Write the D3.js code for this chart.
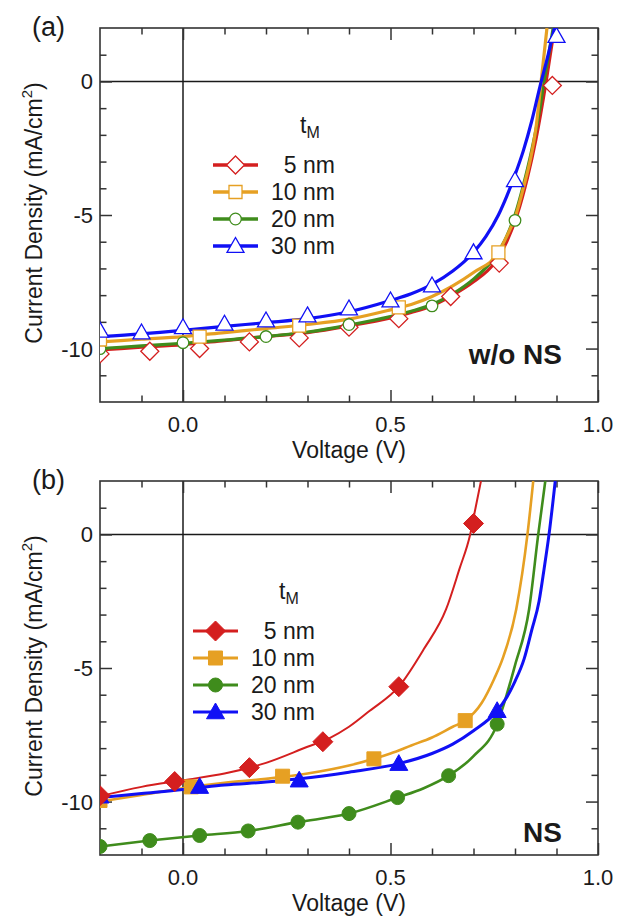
<!DOCTYPE html>
<html><head><meta charset="utf-8">
<script src="https://cdn.jsdelivr.net/npm/d3@7"></script>
<style>
body{margin:0;background:#fff}
svg{display:block}
text{font-family:"Liberation Sans",Arial,Helvetica,sans-serif;fill:#1a1a1a}
</style>
</head><body>
<svg id="chart" width="617" height="920"></svg>
<script>
// ---------- data ----------
const seriesNames = ["5 nm", "10 nm", "20 nm", "30 nm"];
const seriesColors = ["#d41f1f", "#e6a023", "#3f8c1c", "#1010f5"];
const seriesShapes = ["diamond", "square", "circle", "triangle"];

const xTickValues = [0.0, 0.5, 1.0];
const xTickLabels = ["0.0", "0.5", "1.0"];
const xMinorTicks = [-0.1, 0.1, 0.2, 0.3, 0.4, 0.6, 0.7, 0.8, 0.9];
const yTickValues = [0, -5, -10];
const yTickLabels = ["0", "-5", "-10"];
const yMinorTicks = [1, -1, -2, -3, -4, -6, -7, -8, -9, -11];

// Panel (a): w/o NS  [voltage V, current density mA/cm2]
const a5Line = [[-0.2,-10.05],[-0.1,-9.95],[0,-9.85],[0.1,-9.7],[0.2,-9.55],[0.3,-9.4],[0.4,-9.15],[0.5,-8.85],[0.55,-8.65],[0.6,-8.4],[0.65,-8.0],[0.7,-7.5],[0.75,-6.8],[0.78,-6.0],[0.805,-5.0],[0.83,-3.6],[0.85,-2.2],[0.875,0.0],[0.885,1.0],[0.895,2.0]];
const a5Marks = [[-0.2,-10.2],[-0.08,-10.1],[0.04,-10.0],[0.16,-9.75],[0.28,-9.6],[0.40,-9.2],[0.52,-8.88],[0.645,-8.05],[0.762,-6.8],[0.89,-0.15]];
const a10Line = [[-0.2,-9.75],[-0.1,-9.65],[0,-9.55],[0.1,-9.4],[0.2,-9.25],[0.3,-9.1],[0.4,-8.9],[0.5,-8.55],[0.55,-8.35],[0.6,-8.05],[0.65,-7.65],[0.7,-7.15],[0.76,-6.4],[0.78,-5.8],[0.8,-5.1],[0.82,-4.0],[0.84,-2.7],[0.85,-1.8],[0.863,0],[0.877,2.0]];
const a10Marks = [[-0.2,-9.66],[0.04,-9.55],[0.28,-9.14],[0.52,-8.46],[0.76,-6.4]];
const a20Line = [[-0.2,-10.0],[-0.1,-9.9],[0,-9.8],[0.1,-9.68],[0.2,-9.55],[0.3,-9.38],[0.4,-9.12],[0.5,-8.8],[0.55,-8.6],[0.6,-8.35],[0.65,-7.95],[0.7,-7.4],[0.75,-6.6],[0.78,-5.8],[0.8,-5.0],[0.82,-3.9],[0.84,-2.6],[0.86,-1.0],[0.87,0.0],[0.88,0.9],[0.892,2.0]];
const a20Marks = [[-0.2,-10.0],[0,-9.78],[0.2,-9.55],[0.4,-9.1],[0.6,-8.4],[0.8,-5.2]];
const a30Line = [[-0.2,-9.55],[-0.1,-9.45],[0,-9.32],[0.1,-9.17],[0.2,-9.03],[0.3,-8.88],[0.4,-8.62],[0.5,-8.2],[0.55,-7.95],[0.6,-7.6],[0.65,-7.1],[0.7,-6.4],[0.73,-5.8],[0.76,-5.0],[0.78,-4.3],[0.8,-3.5],[0.82,-2.6],[0.84,-1.5],[0.86,-0.2],[0.88,1.0],[0.895,2.0]];
const a30Marks = [[-0.2,-9.33],[-0.1,-9.4],[0,-9.2],[0.1,-9.07],[0.2,-8.95],[0.3,-8.76],[0.4,-8.5],[0.5,-8.2],[0.6,-7.64],[0.7,-6.4],[0.8,-3.7],[0.9,1.7]];

// Panel (b): NS
const b5Line = [[-0.2,-9.8],[-0.1,-9.45],[0,-9.2],[0.1,-8.95],[0.2,-8.55],[0.3,-7.95],[0.35,-7.65],[0.4,-7.2],[0.45,-6.6],[0.52,-5.7],[0.58,-4.3],[0.634,-2.8],[0.666,-1.3],[0.692,0],[0.705,1.0],[0.718,2.0]];
const b5Marks = [[-0.2,-9.78],[-0.02,-9.25],[0.16,-8.73],[0.337,-7.76],[0.52,-5.7],[0.70,0.41]];
const b10Line = [[-0.2,-10.0],[-0.1,-9.75],[0,-9.5],[0.1,-9.3],[0.2,-9.15],[0.3,-8.95],[0.4,-8.65],[0.46,-8.4],[0.5,-8.2],[0.55,-7.9],[0.6,-7.6],[0.65,-7.2],[0.68,-6.97],[0.72,-6.3],[0.75,-5.4],[0.77,-4.66],[0.803,-2.8],[0.83,0],[0.844,2.0]];
const b10Marks = [[-0.2,-9.96],[0.02,-9.45],[0.24,-9.05],[0.46,-8.4],[0.68,-6.97]];
const b20Line = [[-0.2,-11.68],[-0.08,-11.46],[0.04,-11.27],[0.157,-11.1],[0.277,-10.77],[0.4,-10.45],[0.517,-9.85],[0.58,-9.5],[0.64,-9.03],[0.7,-8.3],[0.757,-7.1],[0.78,-6.0],[0.80,-4.9],[0.834,-2.8],[0.856,0],[0.873,2.0]];
const b20Marks = [[-0.2,-11.68],[-0.08,-11.46],[0.04,-11.27],[0.157,-11.1],[0.277,-10.77],[0.4,-10.45],[0.517,-9.85],[0.64,-9.03],[0.757,-7.1]];
const b30Line = [[-0.2,-9.85],[-0.1,-9.7],[0,-9.55],[0.04,-9.48],[0.1,-9.38],[0.2,-9.27],[0.28,-9.15],[0.4,-8.9],[0.52,-8.58],[0.6,-8.2],[0.65,-7.85],[0.7,-7.35],[0.757,-6.6],[0.78,-6.1],[0.80,-5.5],[0.822,-4.66],[0.84,-3.6],[0.858,-2.5],[0.87,-1.3],[0.882,0],[0.897,2.0]];
const b30Marks = [[-0.2,-9.8],[0.04,-9.44],[0.28,-9.2],[0.52,-8.58],[0.757,-6.6]];

const xDomain = [-0.2, 1.0];
const yDomain = [-12, 2];

// ---------- drawing ----------
const svg = d3.select("#chart");
const L = 100, R = 598;

const panels = [
  { id: "a", label: "(a)", note: "w/o NS", top: 28, bottom: 402, filled: false,
    lines: [a5Line, a10Line, a20Line, a30Line], marks: [a5Marks, a10Marks, a20Marks, a30Marks],
    order: [0, 2, 1, 3], lw: [3.2, 3.2, 3.2, 3.2], legX: 213, legY: 165, tmX: 300, legTextX: 335,
    ms: {diamond: 9, square: 6.5, circle: 5.8, triangle: 8.5}, sw: 1.3 },
  { id: "b", label: "(b)", note: "NS", top: 481, bottom: 855, filled: true,
    lines: [b5Line, b10Line, b20Line, b30Line], marks: [b5Marks, b10Marks, b20Marks, b30Marks],
    order: [2, 1, 3, 0], lw: [2, 2.6, 2.6, 3], legX: 193, legY: 631, tmX: 279, legTextX: 315,
    ms: {diamond: 10, square: 7, circle: 7, triangle: 9}, sw: 1 }
];

function markerPath(shape, s) {
  if (shape === "diamond") return `M0,${-s}L${s},0L0,${s}L${-s},0Z`;
  if (shape === "square") return `M${-s},${-s}H${s}V${s}H${-s}Z`;
  if (shape === "triangle") return `M0,${-s}L${s},${s*0.75}L${-s},${s*0.75}Z`;
  return null;
}

function drawMarker(g, shape, cx, cy, color, filled, size, sw) {
  let el;
  if (shape === "circle") {
    el = g.append("circle").attr("cx", cx).attr("cy", cy).attr("r", size);
  } else {
    el = g.append("path").attr("d", markerPath(shape, size)).attr("transform", `translate(${cx},${cy})`);
  }
  el.attr("fill", filled ? color : "#fff").attr("stroke", color).attr("stroke-width", sw);
}

panels.forEach(p => {
  const x = d3.scaleLinear().domain(xDomain).range([L, R]);
  const y = d3.scaleLinear().domain(yDomain).range([p.bottom, p.top]);
  const g = svg.append("g");

  g.append("clipPath").attr("id", "clip" + p.id)
    .append("rect").attr("x", L).attr("y", p.top).attr("width", R - L).attr("height", p.bottom - p.top);

  // zero lines
  g.append("line").attr("x1", L).attr("x2", R).attr("y1", y(0)).attr("y2", y(0))
    .attr("stroke", "#1a1a1a").attr("stroke-width", 1.5);
  g.append("line").attr("x1", x(0)).attr("x2", x(0)).attr("y1", p.top).attr("y2", p.bottom)
    .attr("stroke", "#1a1a1a").attr("stroke-width", 1.5);

  // axes (ticks inside)
  const axes = [
    [d3.axisBottom, p.bottom, "x"], [d3.axisTop, p.top, "x"],
    [d3.axisLeft, L, "y"], [d3.axisRight, R, "y"]
  ];
  axes.forEach(([fn, pos, dim]) => {
    const sc = dim === "x" ? x : y;
    const tr = dim === "x" ? `translate(0,${pos})` : `translate(${pos},0)`;
    const major = dim === "x" ? xTickValues : yTickValues;
    const minor = dim === "x" ? xMinorTicks : yMinorTicks;
    const a1 = g.append("g").attr("transform", tr)
      .call(fn(sc).tickValues(major).tickSize(-12).tickFormat(""));
    const a2 = g.append("g").attr("transform", tr)
      .call(fn(sc).tickValues(minor).tickSize(-6.5).tickFormat(""));
    [a1, a2].forEach(a => {
      a.select(".domain").remove();
      a.selectAll("line").attr("stroke", "#333").attr("stroke-width", 1.5);
    });
  });

  // frame
  g.append("rect").attr("x", L).attr("y", p.top).attr("width", R - L).attr("height", p.bottom - p.top)
    .attr("fill", "none").attr("stroke", "#333").attr("stroke-width", 1.6);

  // tick labels
  xTickValues.forEach((v, i) => {
    g.append("text").attr("x", x(v)).attr("y", p.bottom + 30).attr("text-anchor", "middle")
      .attr("font-size", 22).text(xTickLabels[i]);
  });
  yTickValues.forEach((v, i) => {
    g.append("text").attr("x", L - 7).attr("y", y(v) + 8).attr("text-anchor", "end")
      .attr("font-size", 22).text(yTickLabels[i]);
  });

  // axis titles
  g.append("text").attr("x", (L + R) / 2).attr("y", p.bottom + 56).attr("text-anchor", "middle")
    .attr("font-size", 23).text("Voltage (V)");
  const yt = g.append("text")
    .attr("transform", `translate(42,${(p.top + p.bottom) / 2 - 2}) rotate(-90)`)
    .attr("text-anchor", "middle").attr("font-size", 23);
  yt.append("tspan").text("Current Density (mA/cm");
  yt.append("tspan").attr("font-size", 15).attr("dy", -10).text("2");
  yt.append("tspan").attr("dy", 10).text(")");

  // panel label
  g.append("text").attr("x", 32).attr("y", p.top + 8).attr("font-size", 27).text(p.label);

  // curves
  const lineGen = d3.line().x(d => x(d[0])).y(d => y(d[1])).curve(d3.curveMonotoneX);
  const cg = g.append("g").attr("clip-path", `url(#clip${p.id})`);
  p.order.forEach(i => {
    cg.append("path").datum(p.lines[i]).attr("d", lineGen)
      .attr("fill", "none").attr("stroke", seriesColors[i]).attr("stroke-width", p.lw[i])
      .attr("stroke-linejoin", "round");
  });
  p.order.forEach(i => {
    p.marks[i].forEach(d => {
      drawMarker(cg, seriesShapes[i], x(d[0]), y(d[1]), seriesColors[i], p.filled, p.ms[seriesShapes[i]], p.sw);
    });
  });

  // legend
  const lt = g.append("text").attr("x", p.tmX).attr("y", p.legY - 32).attr("font-size", 23);
  lt.append("tspan").text("t");
  lt.append("tspan").attr("font-size", 16).attr("dy", 5).text("M");
  seriesNames.forEach((name, i) => {
    const yy = p.legY + i * 27;
    g.append("line").attr("x1", p.legX).attr("x2", p.legX + 45).attr("y1", yy).attr("y2", yy)
      .attr("stroke", seriesColors[i]).attr("stroke-width", p.filled ? 3 : 3.5);
    drawMarker(g, seriesShapes[i], p.legX + 22.5, yy, seriesColors[i], p.filled, p.ms[seriesShapes[i]], p.sw);
    g.append("text").attr("x", p.legTextX).attr("y", yy + 8).attr("text-anchor", "end")
      .attr("font-size", 23).text(name);
  });

  // note
  g.append("text").attr("x", 562).attr("y", p.id === "a" ? 364 : 842).attr("text-anchor", "end")
    .attr("font-size", 28).attr("font-weight", "bold").text(p.note);
});
</script>
</body></html>
